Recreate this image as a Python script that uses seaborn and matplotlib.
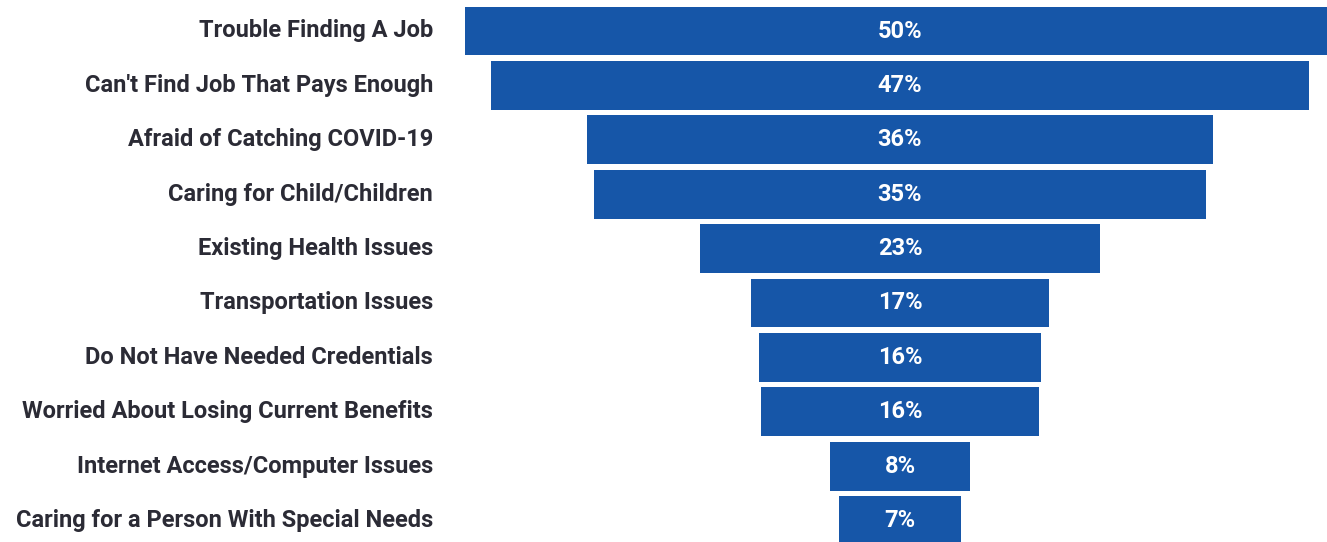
import matplotlib
matplotlib.use("Agg")
import matplotlib.pyplot as plt
import seaborn as sns
import pandas as pd

categories = [
    "Trouble Finding A Job",
    "Can't Find Job That Pays Enough",
    "Afraid of Catching COVID-19",
    "Caring for Child/Children",
    "Existing Health Issues",
    "Transportation Issues",
    "Do Not Have Needed Credentials",
    "Worried About Losing Current Benefits",
    "Internet Access/Computer Issues",
    "Caring for a Person With Special Needs",
]
values = [50, 47, 36, 35.2, 23, 17.1, 16.2, 16.0, 8, 7]

df = pd.DataFrame({"reason": categories, "pct": values})

sns.set_theme(style="white")
plt.rcParams["font.family"] = ["Roboto", "DejaVu Sans"]

W, H = 1327, 542
fig = plt.figure(figsize=(W / 100, H / 100), dpi=100)
ax = fig.add_axes([0, 0, 1, 1])

bar_color = "#1656a8"
sns.barplot(data=df, x="pct", y="reason", orient="h", color=bar_color,
            saturation=1, width=0.9, ax=ax)

# center the bars to build the funnel
for p in ax.patches:
    w = p.get_width()
    p.set_x(-w / 2)
    p.set_edgecolor("none")

# scale: centre at 900 px, 17.4 px per percent
px_per = 17.4
cx = 900
ax.set_xlim(-cx / px_per, (W - cx) / px_per)
top_px, spacing = 31, 54.4
ax.set_ylim(9 + (H - (top_px + 9 * spacing)) / spacing, -top_px / spacing)

for i, (cat, v) in enumerate(zip(categories, values)):
    ax.text(0, i, f"{v:.0f}%", ha="center", va="center", color="white",
            fontsize=17, fontweight="bold")
    ax.text((433 - cx) / px_per, i, cat, ha="right", va="center",
            color="#2b2b35", fontsize=17, fontweight="bold")

ax.set_xlabel("")
ax.set_ylabel("")
ax.set_xticks([])
ax.set_yticks([])
for s in ax.spines.values():
    s.set_visible(False)

fig.savefig("out.png", dpi=100)
